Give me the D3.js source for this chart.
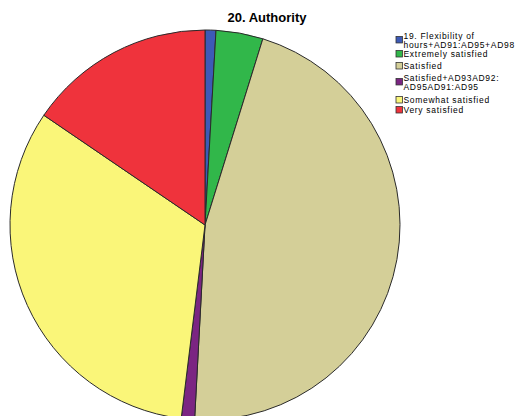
<!DOCTYPE html>
<html>
<head>
<meta charset="utf-8">
<script src="https://cdn.jsdelivr.net/npm/d3@7"></script>
<style>
  html, body { margin: 0; padding: 0; background: #fff; }
  svg { display: block; }
</style>
</head>
<body>
<svg id="chart" width="518" height="416"></svg>
<script>
// Response categories and their shares (%) for "20. Authority"
const categories = [
  "19. Flexibility of hours+AD91:AD95+AD98",
  "Extremely satisfied",
  "Satisfied",
  "Satisfied+AD93AD92: AD95AD91:AD95",
  "Somewhat satisfied",
  "Very satisfied"
];
const values = [0.9, 3.9, 46.1, 1.1, 32.6, 15.5];
// Legend text, split across lines as shown
const legendLines = [
  ["19. Flexibility of", "hours+AD91:AD95+AD98"],
  ["Extremely satisfied"],
  ["Satisfied"],
  ["Satisfied+AD93AD92:", "AD95AD91:AD95"],
  ["Somewhat satisfied"],
  ["Very satisfied"]
];
const colors = ["#3d5ab6", "#31b74a", "#d4cf98", "#7b2582", "#faf679", "#ef333c"];
const title = "20. Authority";

const svg = d3.select("#chart");
const color = d3.scaleOrdinal().domain(categories).range(colors);

const cx = 205, cy = 225, r = 195;

const pie = d3.pie().sort(null).value(d => d.value);
const arc = d3.arc().innerRadius(0).outerRadius(r);
const data = categories.map((c, i) => ({ key: c, value: values[i] }));

svg.append("g")
  .attr("transform", `translate(${cx},${cy})`)
  .selectAll("path")
  .data(pie(data))
  .join("path")
  .attr("d", arc)
  .attr("fill", d => color(d.data.key))
  .attr("stroke", "#2a2a2a")
  .attr("stroke-width", 1)
  .attr("stroke-linejoin", "round");

// Title
svg.append("text")
  .attr("x", 267)
  .attr("y", 22)
  .attr("text-anchor", "middle")
  .attr("font-family", "Liberation Sans, Arial, sans-serif")
  .attr("font-weight", "bold")
  .attr("font-size", 13)
  .attr("fill", "#000")
  .text(title);

// Legend: first-line baseline per entry; wrapped lines are tspans below
const legend = svg.append("g")
  .attr("font-family", "Liberation Sans, Arial, sans-serif")
  .attr("font-size", 8.5)
  .attr("letter-spacing", 0.7)
  .attr("fill", "#000");
const firstBaselines = [38.5, 57, 69, 80.5, 103, 113];
const lineH = 9;
const sw = 6.5;
categories.forEach((c, i) => {
  const lines = legendLines[i];
  const base = firstBaselines[i];
  // single-line entries: swatch bottom on the baseline; wrapped: centred between lines
  const mid = lines.length > 1 ? base + 1.2 : base - sw / 2;
  legend.append("rect")
    .attr("x", 396)
    .attr("y", mid - sw / 2)
    .attr("width", sw)
    .attr("height", sw)
    .attr("fill", color(c))
    .attr("stroke", "#333")
    .attr("stroke-width", 0.8);
  const label = legend.append("text")
    .attr("x", 403.5)
    .attr("y", base);
  lines.forEach((t, j) => {
    label.append("tspan")
      .attr("x", 403.5)
      .attr("y", base + j * lineH)
      .text(t);
  });
});
</script>
</body>
</html>
